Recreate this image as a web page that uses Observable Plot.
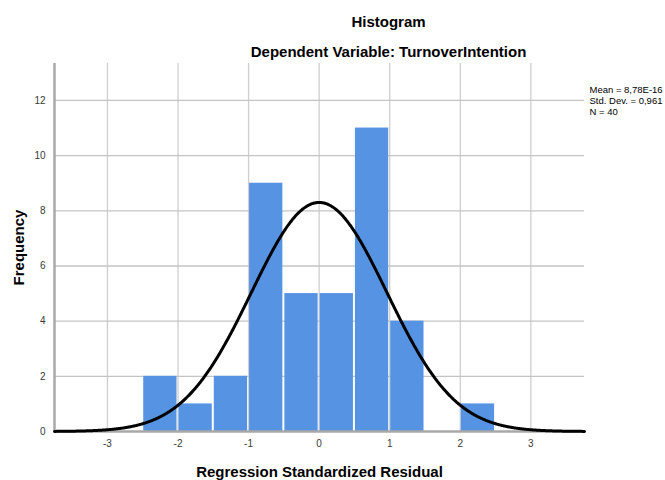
<!DOCTYPE html>
<html>
<head>
<meta charset="utf-8">
<script src="https://cdn.jsdelivr.net/npm/d3@7"></script>
<script src="https://cdn.jsdelivr.net/npm/@observablehq/plot@0.6"></script>
<style>
  html, body { margin: 0; padding: 0; background: #fff; }
  #chart svg { display: block; }
</style>
</head>
<body>
<div id="chart"></div>
<script>
// Histogram bins (lower edge) and counts
const binStarts = [-2.5, -2.0, -1.5, -1.0, -0.5, 0.0, 0.5, 1.0, 1.5, 2.0];
const binCounts = [2, 1, 2, 9, 5, 5, 11, 4, 0, 1];
const binWidth = 0.5;

// Summary statistics shown in the chart
const statMean = 8.78e-16;
const statSD = 0.961;
const statN = 40;
const statLabels = ["Mean = 8,78E-16", "Std. Dev. = 0,961", "N = 40"];

// Axis ticks
const xTicks = [-3, -2, -1, 0, 1, 2, 3];
const yTicks = [0, 2, 4, 6, 8, 10, 12];

const titleText = "Histogram";
const subtitleText = "Dependent Variable: TurnoverIntention";
const xLabel = "Regression Standardized Residual";
const yLabel = "Frequency";

const xDomain = [-3.75, 3.76];
const yDomain = [0, 13.34];

const bins = binStarts.map((b, i) => ({x1: b, x2: b + binWidth, count: binCounts[i]})).filter(d => d.count > 0);

// Fitted normal curve scaled to frequencies (N * bin width * pdf)
const curve = d3.range(xDomain[0], xDomain[1] + 1e-9, 0.01).map(x => ({
  x,
  y: statN * binWidth * Math.exp(-0.5 * ((x - statMean) / statSD) ** 2) / (statSD * Math.sqrt(2 * Math.PI))
}));

const font = "Arial, 'Liberation Sans', Helvetica, sans-serif";

const chart = Plot.plot({
  width: 665,
  height: 480,
  marginLeft: 54,
  marginRight: 81,
  marginTop: 63,
  marginBottom: 49,
  style: {fontFamily: font, fontSize: "10px", color: "#333", background: "#fff", overflow: "visible"},
  x: {domain: xDomain, ticks: xTicks, label: null},
  y: {domain: yDomain, ticks: yTicks, label: null},
  marks: [
    Plot.gridX(xTicks, {stroke: "#cfcfcf", strokeOpacity: 1, strokeWidth: 1.3}),
    Plot.gridY(yTicks.filter(t => t > 0), {stroke: "#c4c4c4", strokeOpacity: 1, strokeWidth: 1.3}),
    Plot.rectY(bins, {x1: "x1", x2: "x2", y: "count", fill: "#5694e3", insetLeft: 1, insetRight: 1}),
    Plot.ruleY([0], {stroke: "#a8a8a8", strokeWidth: 2.5}),
    Plot.ruleX([xDomain[0]], {stroke: "#a8a8a8", strokeWidth: 2.5}),
    Plot.line(curve, {x: "x", y: "y", stroke: "#000", strokeWidth: 3}),
    Plot.axisX(xTicks, {tickSize: 0, tickPadding: 8, fontSize: 10, fill: "#3a3a3a", tickFormat: d => String(d)}),
    Plot.axisY(yTicks, {tickSize: 0, tickPadding: 9, fontSize: 10, fill: "#3a3a3a", tickFormat: d => String(d)}),
    Plot.text([titleText], {frameAnchor: "top", dx: 69, dy: -37, fontSize: 15, fontWeight: "bold", fill: "#000", lineAnchor: "bottom"}),
    Plot.text([subtitleText], {frameAnchor: "top", dx: 69, dy: -7, fontSize: 15, fontWeight: "bold", fill: "#000", lineAnchor: "bottom"}),
    Plot.text([xLabel], {frameAnchor: "bottom", dy: 45, fontSize: 15, fontWeight: "bold", fill: "#000", lineAnchor: "bottom"}),
    Plot.text([yLabel], {frameAnchor: "left", dx: -31, rotate: -90, textAnchor: "middle", fontSize: 15, fontWeight: "bold", fill: "#000", lineAnchor: "bottom"}),
    Plot.text([statLabels.join("\n")], {frameAnchor: "top-right", dx: 5, dy: 22, textAnchor: "start", lineAnchor: "top", lineHeight: 1.15, fontSize: 9.5, fill: "#000"})
  ]
});

document.getElementById("chart").appendChild(chart);
</script>
</body>
</html>
